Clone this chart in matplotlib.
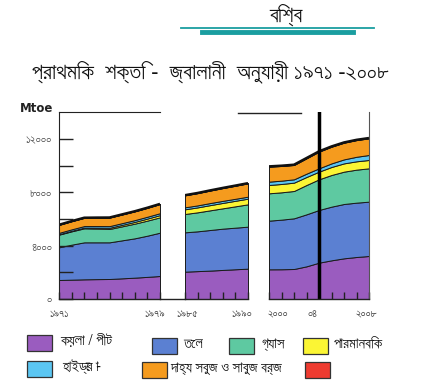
import matplotlib
matplotlib.use("Agg")
import matplotlib.pyplot as plt
from matplotlib import font_manager
from matplotlib.lines import Line2D
from matplotlib.patches import Rectangle
from matplotlib.transforms import ScaledTranslation

# ---------------- data (Mtoe) ----------------
years_a = [1971, 1972, 1973, 1974, 1975, 1976, 1977, 1978, 1979]
coal_a = [1425, 1450, 1475, 1490, 1500, 1550, 1600, 1660, 1725]
oil_a = [2450, 2625, 2775, 2760, 2750, 2850, 2950, 3090, 3250]
gas_a = [950, 1000, 1050, 1030, 1000, 1050, 1100, 1130, 1150]
nuc_a = [30, 40, 55, 70, 90, 110, 130, 150, 165]
hyd_a = [105, 110, 115, 120, 125, 130, 135, 140, 145]
crw_a = [600, 610, 620, 630, 640, 650, 660, 670, 690]
oth_a = [5, 5, 5, 5, 5, 5, 5, 5, 5]

years_b = [1985, 1986, 1987, 1988, 1989, 1990]
coal_b = [2050, 2090, 2130, 2180, 2230, 2275]
oil_b = [2950, 2985, 3045, 3095, 3120, 3150]
gas_b = [1375, 1425, 1475, 1525, 1600, 1675]
nuc_b = [350, 370, 390, 405, 415, 425]
hyd_b = [150, 150, 155, 155, 150, 150]
crw_b = [900, 920, 940, 960, 980, 1000]
oth_b = [10, 10, 10, 10, 10, 10]

years_c = [2000, 2001, 2002, 2003, 2004, 2005, 2006, 2007, 2008]
coal_c = [2225, 2230, 2250, 2450, 2725, 2900, 3050, 3150, 3225]
oil_c = [3650, 3720, 3800, 3900, 3950, 4025, 4075, 4075, 4075]
gas_c = [2050, 2050, 2050, 2200, 2300, 2375, 2425, 2475, 2500]
nuc_c = [625, 625, 625, 600, 575, 600, 620, 625, 625]
hyd_c = [250, 250, 250, 250, 250, 270, 300, 340, 375]
crw_c = [1125, 1100, 1075, 1150, 1250, 1250, 1250, 1250, 1250]
oth_c = [20, 20, 20, 20, 20, 20, 20, 20, 20]

y_ticks = [0, 2000, 4000, 6000, 8000, 10000, 12000]
y_ticklabels = ["০", "", "৪০০০", "", "৮০০০", "", "১২০০০"]
x_labels_a = {1971: "১৯৭১", 1979: "১৯৭৯"}
x_labels_b = {1985: "১৯৮৫", 1990: "১৯৯০"}
x_labels_c = {2000: "২০০০", 2004: "০৪", 2008: "২০০৮"}
# small horizontal nudges (px) of the year labels, as placed in the original
x_label_shift = {1971: 0, 1979: -5, 1985: 2, 1990: -6, 2000: 9, 2004: -7, 2008: -3}

legend_labels = ["কয়লা / পীট", "তেল", "গ্যাস", "পারমানবিক",
                 "হাইড্রো -", "দাহ্য সবুজ ও সাবুজ বর্জ", ""]
colors = ["#9a5cbf", "#5b80d2", "#5ec9a1", "#fbf534", "#5bc6f2", "#f59b1e", "#ee3b30"]

title = "বিশ্ব"
subtitle = "প্রাথমিক  শক্তি -  জ্বালানী  অনুযায়ী ১৯৭১ -২০০৮"

# ---------------- fonts ----------------
fams = []
for f in font_manager.fontManager.ttflist:
    n = f.name
    if any(k in n for k in ("Bengali", "Bangla", "Lohit", "FreeSans", "Mukti", "Kalpurush", "SolaimanLipi")):
        if n not in fams:
            fams.append(n)
fams += ["DejaVu Sans"]
plt.rcParams["font.family"] = fams

W, H = 432, 388
fig = plt.figure(figsize=(W / 100, H / 100), dpi=100)


def fx(px):
    return px / W


def fy(py):
    return 1 - py / H


def add_ax(x0, x1, y0=112.3, y1=299):
    return fig.add_axes([fx(x0), fy(y1), fx(x1) - fx(x0), fy(y0) - fy(y1)])


ax1 = add_ax(59, 160)
ax2 = add_ax(185, 248)
ax3 = add_ax(269, 369)

segs = [
    (ax1, years_a, [coal_a, oil_a, gas_a, nuc_a, hyd_a, crw_a, oth_a], x_labels_a),
    (ax2, years_b, [coal_b, oil_b, gas_b, nuc_b, hyd_b, crw_b, oth_b], x_labels_b),
    (ax3, years_c, [coal_c, oil_c, gas_c, nuc_c, hyd_c, crw_c, oth_c], x_labels_c),
]

for ax, yrs, layers, xl in segs:
    ax.stackplot(yrs, *layers, colors=colors, edgecolor="#1a1a1a", linewidth=0.7)
    tot = [sum(v) for v in zip(*layers)]
    ax.plot(yrs, tot, color="#111111", lw=1.8, solid_capstyle="butt")
    ax.set_xlim(yrs[0], yrs[-1])
    ax.set_ylim(0, 14000)
    ax.patch.set_alpha(0)
    for s in ax.spines.values():
        s.set_visible(False)
    ax.spines["bottom"].set_visible(True)
    ax.spines["bottom"].set_color("#222222")
    ax.spines["bottom"].set_linewidth(1.0)
    ax.set_xticks(yrs)
    ax.set_xticklabels([xl.get(y, "") for y in yrs])
    ax.tick_params(axis="x", direction="in", length=5, width=1.0, color="#222222",
                   labelsize=8, labelcolor="#333333", pad=7)
    for y, lab in zip(yrs, ax.get_xticklabels()):
        dx = x_label_shift.get(y, 0)
        if dx:
            lab.set_transform(lab.get_transform() + ScaledTranslation(dx / 100, 0, fig.dpi_scale_trans))
    ax.set_yticks([])

ax1.spines["left"].set_visible(True)
ax1.spines["left"].set_color("#222222")
ax1.spines["top"].set_visible(True)
ax1.spines["top"].set_color("#222222")
ax1.set_yticks(y_ticks)
ax1.set_yticklabels(y_ticklabels)
ax1.tick_params(axis="y", direction="in", length=10, width=1.0, color="#222222",
                labelsize=8.5, labelcolor="#444444", pad=5)

ax3.spines["right"].set_visible(True)
ax3.spines["right"].set_color("#555555")
ax3.axvline(2004, color="black", lw=2.5)

# decorative lines
fig.add_artist(Line2D([fx(160), fx(185)], [fy(299), fy(299)], color="#222222", lw=1.0))
fig.add_artist(Line2D([fx(238), fx(301)], [fy(113), fy(113)], color="#222222", lw=1.0))

fig.text(fx(20), fy(109), "Mtoe", fontsize=8.5, fontweight="bold", color="#222222",
         va="center", ha="left", family="DejaVu Sans")

# title
fig.text(fx(286), fy(15), title, fontsize=16, ha="center", va="center", color="#111111")
fig.add_artist(Line2D([fx(181), fx(374)], [fy(28), fy(28)], color="#1a9ea0", lw=1.3))
fig.add_artist(Line2D([fx(202), fx(353)], [fy(31.5), fy(31.5)], color="#1a9ea0", lw=3.5))
fig.text(fx(211), fy(72), subtitle, fontsize=16, ha="center", va="center", color="#111111")

# legend
legend_pos = [(27, 343, 60), (152, 346, 183), (229, 346, 262), (303, 346, 334),
              (27, 369, 62), (142, 370, 170), (305, 370, 0)]
for (px, py, tx), c, lab in zip(legend_pos, colors, legend_labels):
    fig.add_artist(Rectangle((fx(px), fy(py + 8)), fx(25), fy(0) - fy(16),
                             facecolor=c, edgecolor="#333333", lw=0.9,
                             transform=fig.transFigure))
    if lab:
        fig.text(fx(tx), fy(py - 2), lab, fontsize=10.5, ha="left", va="center", color="#111111")

fig.savefig("out.png", dpi=100)
